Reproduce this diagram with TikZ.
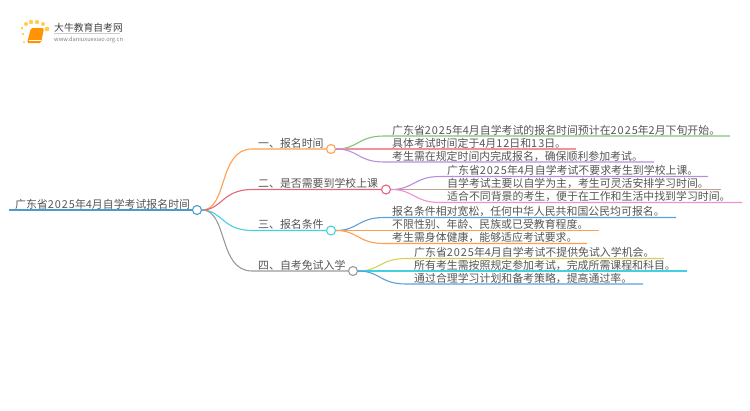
\documentclass[tikz,border=0pt]{standalone}
\usepackage{fontspec}
\setmainfont{Noto Sans CJK SC}
\usepackage{xcolor}
\usetikzlibrary{calc}
\definecolor{txtgray}{HTML}{555555}
\definecolor{cRoot}{HTML}{4C9BD0}
\definecolor{cOrange}{HTML}{FF9F4F}
\definecolor{cRed}{HTML}{E0677A}
\definecolor{cCyan}{HTML}{45D0E2}
\definecolor{cGray}{HTML}{999999}
\definecolor{cGreen}{HTML}{7CC576}
\definecolor{cPink}{HTML}{F0939B}
\definecolor{cPurple}{HTML}{B58FDB}
\definecolor{cBrown}{HTML}{C99C92}
\definecolor{cMagenta}{HTML}{F08FD2}
\definecolor{cBlue}{HTML}{5BA0D8}
\definecolor{cOlive}{HTML}{CFD45C}
\newcommand{\wnum}[1]{{\addfontfeatures{LetterSpace=9}#1}}

\begin{document}
\begin{tikzpicture}[
    x=1pt, y=1pt,
    txt/.style={anchor=base west, inner sep=0pt, yshift=-1.2pt, font=\fontsize{10.9}{12}\selectfont, text=txtgray},
    dotnode/.style={circle, draw, fill=white, line width=1.1pt, minimum width=9pt, minimum height=7pt, inner sep=0pt},
    bar/.style={line width=1.1pt},
]
\useasboundingbox (0,0) rectangle (750,-410);

% logo
\foreach \px/\py/\pr in {22/-28/1.5, 23/-34/1.3, 26/-24/2, 31/-22/2.2, 37/-22/2.2, 43/-24/2, 47/-29/2.4, 24/-42/1.1}
    \fill[orange!55!yellow, opacity=0.7] (\px,\py) circle (\pr);
\fill[orange!85!yellow, rounded corners=1.5pt] (31,-28) -- (44,-28) -- (41,-43) -- (27,-43) -- cycle;
\draw[white, line width=0.6pt] (29,-40) -- (41,-40);
\node[anchor=base west, inner sep=0pt, font=\fontsize{9.8}{12}\selectfont, text=black!75] (logotitle) at (54,-31) {大牛教育自考网};
\draw[gray!40, line width=0.5pt] (54,-33) -- (120,-33);
\node[anchor=base west, inner sep=0pt, font=\fontsize{5.7}{6}\selectfont, text=gray] (logourl) at (54,-41) {www.daniuxuexiao.org.cn};

% root
\node[dotnode, draw=cRoot] (rootdot) at (197,-210) {};
\node[txt] (roottext) at (15,-207) {广东省\wnum{2025}年\wnum{4}月自学考试报名时间};
\coordinate (rootstart) at (9,-210);
\draw[cRoot, line width=1.4pt] (rootstart) -- (rootdot);

% branches
\node[dotnode, draw=cOrange] (adot) at (331,-149) {};
\node[dotnode, draw=cRed] (bdot) at (386,-189.5) {};
\node[dotnode, draw=cCyan] (cdot) at (331,-230.5) {};
\node[dotnode, draw=cGray] (ddot) at (353,-271) {};
\node[txt] (atext) at (258,-146) {一、报名时间};
\node[txt] (btext) at (258,-186.5) {二、是否需要到学校上课};
\node[txt] (ctext) at (258,-227.5) {三、报名条件};
\node[txt] (dtext) at (258,-268) {四、自考免试入学};
\coordinate (abend) at (252,-149);
\coordinate (bbend) at (252,-189.5);
\coordinate (cbend) at (252,-230.5);
\coordinate (dbend) at (252,-271);

\draw[cOrange, bar] (rootdot.east) .. controls (228,-210) and (218,-149) .. (abend) -- (adot.west);
\draw[cRed, bar] (rootdot.east) .. controls (222,-210) and (222,-189.5) .. (bbend) -- (bdot.west);
\draw[cCyan, bar] (rootdot.east) .. controls (222,-210) and (222,-230.5) .. (cbend) -- (cdot.west);
\draw[cGray, bar] (rootdot.east) .. controls (228,-210) and (218,-271) .. (dbend) -- (ddot.west);

% first group
\coordinate (a1) at (384,-136);
\coordinate (a1end) at (730,-136);
\coordinate (a2) at (384,-149);
\coordinate (a2end) at (576,-149);
\coordinate (a3) at (384,-162);
\coordinate (a3end) at (654,-162);
\node[txt] (a1text) at (392,-133) {广东省\wnum{2025}年\wnum{4}月自学考试的报名时间预计在\wnum{2025}年\wnum{2}月下旬开始。};
\node[txt] (a2text) at (392,-146) {具体考试时间定于\wnum{4}月\wnum{12}日和\wnum{13}日。};
\node[txt] (a3text) at (392,-159) {考生需在规定时间内完成报名，确保顺利参加考试。};
\draw[cGreen, bar] (adot.east) .. controls (358,-149) and (358,-136) .. (a1) -- (a1end);
\draw[cPink, bar] (adot.east) -- (a2) -- (a2end);
\draw[cPurple, bar] (adot.east) .. controls (358,-149) and (358,-162) .. (a3) -- (a3end);

% second group
\coordinate (b1) at (440,-176.5);
\coordinate (b1end) at (708,-176.5);
\coordinate (b2) at (440,-189.5);
\coordinate (b2end) at (721,-189.5);
\coordinate (b3) at (440,-202.5);
\coordinate (b3end) at (742,-202.5);
\node[txt] (b1text) at (447,-173.5) {广东省\wnum{2025}年\wnum{4}月自学考试不要求考生到学校上课。};
\node[txt] (b2text) at (447,-186.5) {自学考试主要以自学为主，考生可灵活安排学习时间。};
\node[txt] (b3text) at (447,-199.5) {适合不同背景的考生，便于在工作和生活中找到学习时间。};
\draw[cPurple, bar] (bdot.east) .. controls (414,-189.5) and (414,-176.5) .. (b1) -- (b1end);
\draw[cBrown, bar] (bdot.east) -- (b2) -- (b2end);
\draw[cMagenta, bar] (bdot.east) .. controls (414,-189.5) and (414,-202.5) .. (b3) -- (b3end);

% third group
\coordinate (c1) at (384,-217.5);
\coordinate (c1end) at (676,-217.5);
\coordinate (c2) at (384,-230.5);
\coordinate (c2end) at (599,-230.5);
\coordinate (c3) at (384,-243.5);
\coordinate (c3end) at (587,-243.5);
\node[txt] (c1text) at (392,-214.5) {报名条件相对宽松，任何中华人民共和国公民均可报名。};
\node[txt] (c2text) at (392,-227.5) {不限性别、年龄、民族或已受教育程度。};
\node[txt] (c3text) at (392,-240.5) {考生需身体健康，能够适应考试要求。};
\draw[cBlue, bar] (cdot.east) .. controls (358,-230.5) and (358,-217.5) .. (c1) -- (c1end);
\draw[cOrange, bar] (cdot.east) -- (c2) -- (c2end);
\draw[cOrange, bar] (cdot.east) .. controls (358,-230.5) and (358,-243.5) .. (c3) -- (c3end);

% fourth group
\coordinate (d1) at (406,-258.5);
\coordinate (d1end) at (664,-258.5);
\coordinate (d2) at (406,-271);
\coordinate (d2end) at (687,-271);
\coordinate (d3) at (406,-284);
\coordinate (d3end) at (643,-284);
\node[txt] (d1text) at (414,-255.5) {广东省\wnum{2025}年\wnum{4}月自学考试不提供免试入学机会。};
\node[txt] (d2text) at (414,-268) {所有考生需按照规定参加考试，完成所需课程和科目。};
\node[txt] (d3text) at (414,-281) {通过合理学习计划和备考策略，提高通过率。};
\draw[cOlive, bar] (ddot.east) .. controls (380,-271) and (380,-258.5) .. (d1) -- (d1end);
\draw[cCyan, bar] (ddot.east) -- (d2) -- (d2end);
\draw[cBlue, bar] (ddot.east) .. controls (380,-271) and (380,-284) .. (d3) -- (d3end);

\end{tikzpicture}
\end{document}
